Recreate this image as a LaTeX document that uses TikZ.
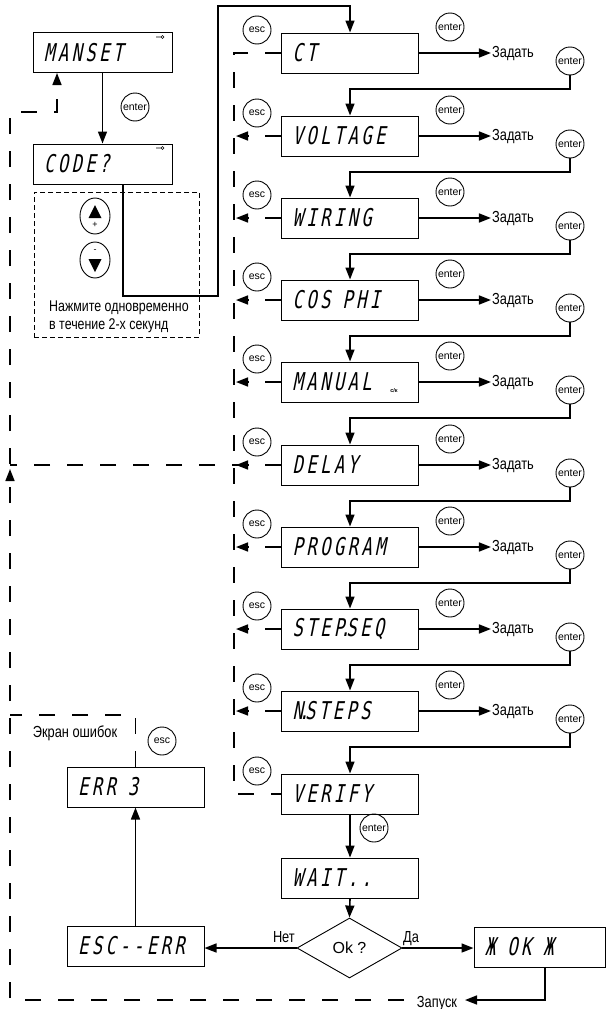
\documentclass[tikz,border=0pt]{standalone}
\usepackage{fontspec}
\setmainfont{Liberation Sans}
\newfontfamily\lcd{DejaVu Sans Mono}[FakeStretch=0.7,FakeSlant=0.2,LetterSpace=14]
\newfontfamily\cond{Liberation Sans}[FakeStretch=0.8]
\newcommand\lsp{\hspace{12pt}}
\usetikzlibrary{arrows.meta,shapes.geometric,calc}
\begin{document}
\begin{tikzpicture}[x=1pt,y=-1pt,
  >={Triangle[length=12pt,width=9pt]},
  lcdbox/.style={draw,line width=1pt,text width=115pt,inner xsep=11pt,inner ysep=0pt,minimum height=40pt,align=left,font=\lcd\fontsize{24.5}{25}\selectfont},
  btn/.style={circle,draw,line width=0.9pt,minimum size=28pt,inner sep=0pt,font=\fontsize{10.5}{10.5}\selectfont},
  conn/.style={line width=1.6pt},
  esccon/.style={line width=1.6pt,dash pattern=on 16pt off 17pt},
  lbl/.style={font=\cond\fontsize{16}{18}\selectfont,inner sep=1pt},
]
\useasboundingbox (0,0) rectangle (607,1009);
\coordinate (vl) at (234,0);
\coordinate (va) at (236,0);
\coordinate (fl) at (10,0);
\coordinate (ml) at (57,0);

% main column
\foreach \i/\yy/\t in {1/53/CT,2/136/VOLTAGE,3/218/WIRING,4/300/COS\lsp PHI,5/382/MANUAL,6/465/DELAY,7/547/PROGRAM,8/629/STEP\hspace{-4pt}.\hspace{-4pt}SEQ,9/711/N\hspace{-4pt}.\hspace{-4pt}STEPS,10/794/VERIFY}{
  \node[lcdbox] (r\i) at (350,\yy) {\t};
  \node[btn] (esc\i) at (257,\yy-23) {esc};
}
\node[font=\bfseries\fontsize{5.5}{5.5}\selectfont,inner sep=0pt] (ck) at (394,391) {c/к};

\foreach \i/\yy in {1/53,2/136,3/218,4/300,5/382,6/465,7/547,8/629,9/711}{
  \pgfmathtruncatemacro\j{\i+1}
  \node[btn] (ent\i) at (450,\yy-26) {enter};
  \node[lbl] (z\i) at (513,\yy+1) {Задать};
  \node[btn] (er\i) at (570,\yy+8) {enter};
  \draw[conn,->] (r\i.east) -- (r\i.east -| z\i.west);
  \draw[conn,->] (er\i.south) -- ++(0,13.5) -| (r\j.north);
}

% esc dashed returns
\draw[esccon] (r1.west) -- (r1.west -| vl) -- (r10.west -| vl) -- (r10.west);
\foreach \i in {2,...,9}{
  \draw[esccon,->] (r\i.west) -- (r\i.west -| va);
}
\draw[esccon] (r6.west) -- (r6.west -| fl);

% top left
\node[lcdbox,text width=117pt] (manset) at (102.5,52.5) {MANSET};
\node[lcdbox,text width=117pt] (code) at (102.5,164) {CODE?};
\draw[line width=0.6pt] (156,37) -- (160.5,37) (162.5,37) circle (1.5pt);
\draw[line width=0.6pt] (156,148) -- (160.5,148) (162.5,148) circle (1.5pt);
\node[btn] (entm) at (135,107) {enter};
\draw[conn,->] (manset.south) -- (code.north);

\node[draw,line width=0.9pt,dash pattern=on 5pt off 3pt,minimum width=165pt,minimum height=145pt,inner sep=0pt] (hold) at (116.5,264.5) {};
\node[ellipse,draw,line width=0.9pt,minimum width=30pt,minimum height=36pt,inner sep=0pt] (up) at (95,216) {};
\node[ellipse,draw,line width=0.9pt,minimum width=30pt,minimum height=36pt,inner sep=0pt] (dn) at (95,260) {};
\fill ($(up)+(0,-11)$) -- ($(up)+(6.5,2)$) -- ($(up)+(-6.5,2)$) -- cycle;
\node[font=\fontsize{9}{9}\selectfont,inner sep=0pt] (plus) at ($(up)+(0,8.5)$) {+};
\fill ($(dn)+(0,12)$) -- ($(dn)+(6.5,-1)$) -- ($(dn)+(-6.5,-1)$) -- cycle;
\node[font=\fontsize{9}{9}\selectfont,inner sep=0pt] (minus) at ($(dn)+(0,-9)$) {-};
\node[lbl,align=left,anchor=north west,font=\cond\fontsize{15.5}{18}\selectfont] (holdtxt) at (48,300) {Нажмите одновременно\\в течение 2-х секунд};

\coordinate (c1) at (123,296);
\coordinate (c2) at (218,6);
\draw[conn,->] (code.south -| c1) -- (c1) -| (c2) -| (r1.north);

% left loop to MANSET
\draw[esccon,->] (10,464) -- (10,112) -- (57,112) -- (manset.south -| ml);

% error branch
\node[lcdbox] (err) at (135.5,787) {ERR\lsp 3};
\node[lcdbox] (escerr) at (135.5,946) {ESC--ERR};
\node[btn] (escE) at (162,741) {esc};
\node[lbl] (ekr) at (75,733) {Экран ошибок};
\coordinate (ec) at (10,715);
\draw[esccon] (err.north) |- (ec);
\draw[conn,->] (escerr.north) -- (err.south);

% bottom
\node[lcdbox] (wait) at (350,878) {WAIT..};
\node[btn] (entv) at (374,828) {enter};
\draw[conn,->] (r10.south) -- (wait.north);
\node[diamond,draw,line width=0.9pt,minimum width=105pt,minimum height=60pt,inner sep=0pt,aspect=1.75,font=\fontsize{16}{16}\selectfont] (dec) at (349.5,948) {Ok ?};
\draw[conn,->] (wait.south) -- (dec.north);
\draw[conn,->] (dec.west) -- (dec.west -| escerr.east);
\node[lcdbox,text width=109pt] (okb) at (539.5,947) {Ж\lsp OK\lsp Ж};
\draw[conn,->] (dec.east) -- (dec.east -| okb.west);
\node[lbl,anchor=base east] (net) at (296,942) {Нет};
\node[lbl,anchor=base west] (da) at (402,942) {Да};

\coordinate (zb) at (545,1000);
\coordinate (zt) at (465,1000);
\coordinate (zl) at (404,1000);
\node[lbl,anchor=base] (zap) at (437,1007) {Запуск};
\draw[conn,->] (okb.south -| zb) -- (zb) -- (zt);
\draw[esccon,->] (zl) -- (fl |- zl) -- (10,469);
\end{tikzpicture}
\end{document}
